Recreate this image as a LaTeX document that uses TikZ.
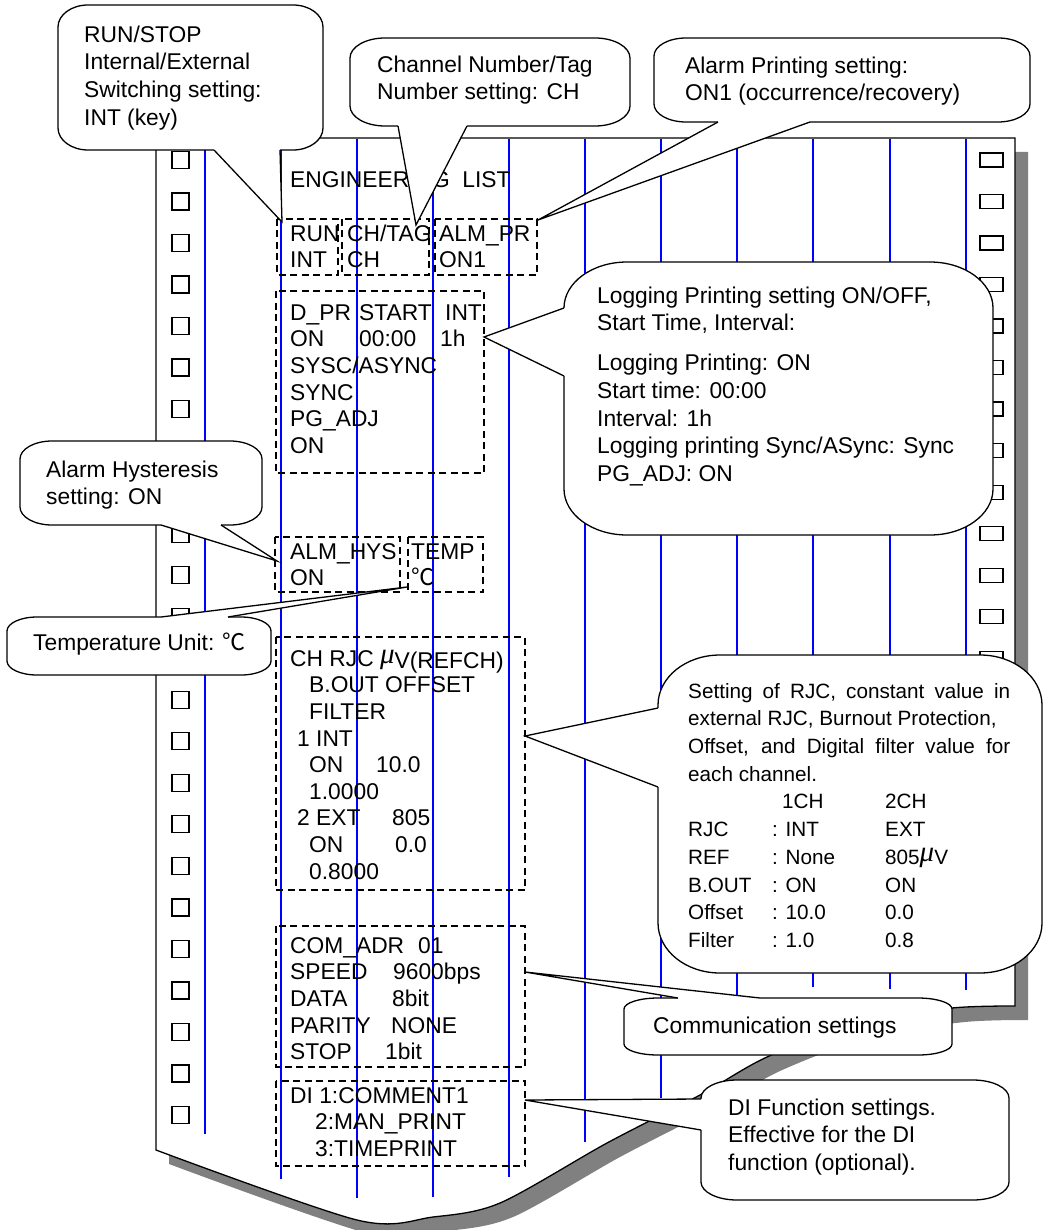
\documentclass[tikz,border=0pt]{standalone}
\usepackage{fontspec}
\setmainfont{Liberation Sans}
\newfontfamily\cjkfont{Noto Sans CJK JP}
\newfontfamily\symbfont{Liberation Serif}
\definecolor{shadowgray}{RGB}{128,128,128}
\definecolor{lineblue}{RGB}{0,0,255}
\tikzset{
  paperline/.style={line width=1.3pt, draw=black},
  bubline/.style={line width=1.3pt, draw=black},
  blueline/.style={draw=lineblue, line width=1.05pt},
  hole/.style={draw=black, line width=1.3pt, fill=white},
  dbox/.style={draw=black, line width=1.3pt, dash pattern=on 7pt off 4.5pt},
  btxt/.style={anchor=north west, inner sep=0pt, align=left, font=\fontsize{22.8}{26.6}\selectfont},
  ctxt/.style={anchor=north west, inner sep=0pt, align=left, font=\fontsize{22.8}{27.7}\selectfont},
  rtxt/.style={anchor=north west, inner sep=0pt, align=left, font=\fontsize{20.7}{27.7}\selectfont},
  stxt/.style={anchor=base west, inner sep=0pt, font=\fontsize{22.8}{27.7}\selectfont},
}
\newcommand{\mum}{\raisebox{3pt}{\fontsize{29}{29}\symbfont\itshape μ}}
\newcommand{\degc}{{\fontsize{23}{23}\cjkfont ℃}}
\newcommand{\bubble}[9]{%
  \filldraw[bubline, fill=white]
    ({#1+#5},{#2}) -- ({#3-#5},{#2})
    .. controls ({#3-0.448*#5},{#2}) and ({#3},{#2+0.448*#6}) .. ({#3},{#2+#6})
    -- ({#3},{#4-#6})
    .. controls ({#3},{#4-0.448*#6}) and ({#3-0.448*#5},{#4}) .. ({#3-#5},{#4})
    -- ({#1+#5},{#4})
    .. controls ({#1+0.448*#5},{#4}) and ({#1},{#4-0.448*#6}) .. ({#1},{#4-#6})
    -- ({#1},{#2+#6})
    .. controls ({#1},{#2+0.448*#6}) and ({#1+0.448*#5},{#2}) .. ({#1+#5},{#2})
    -- cycle;
  \fill[white] (#7) -- (#9) -- (#8) -- cycle;
  \draw[white, line width=2.6pt] (#7) -- (#8);
  \draw[bubline] (#7) -- (#9) -- (#8);
}
\begin{document}
\begin{tikzpicture}[x=1pt,y=-1pt]
\path[fill=white, use as bounding box] (0,0) rectangle (1043,1230);

% paper shadow and paper
\fill[shadowgray, shift={(13,14)}] (156,138) -- (1015,138) -- plot[smooth, tension=0.5] coordinates {(1015,1006) (952,1008) (860,1022) (767,1057) (700,1095) (607,1143) (500,1203) (433,1217) (357,1220) (156,1150)} -- cycle;
\filldraw[paperline, fill=white] (156,138) -- (1015,138) -- plot[smooth, tension=0.5] coordinates {(1015,1006) (952,1008) (860,1022) (767,1057) (700,1095) (607,1143) (500,1203) (433,1217) (357,1220) (156,1150)} -- cycle;

% chart lines
\foreach \x/\e in {205/1134, 281/1179, 357/1198, 433/1197, 509/1177, 585/1142, 661/1098, 737/1045, 813/987, 890/989, 966/990}
  \draw[blueline] (\x,139) -- (\x,\e);

% feed holes
\foreach \k in {0,...,23}
  \draw[hole] (172,{160+41.52*\k-8.5}) rectangle +(17,17);
\foreach \k in {0,...,19}
  \draw[hole] (980,{160+41.52*\k-7}) rectangle +(23,14);

% printed text
\node[stxt] (tEng) at (290,188) {ENGINEERING\ \ LIST};

\draw[dbox] (277,219) rectangle (338,275);
\draw[dbox] (342,219) rectangle (429,275);
\draw[dbox] (435,219) rectangle (537,275);
\node[btxt] (bRun) at (290,222.4) {\strut RUN\\INT};
\node[btxt] (bTag) at (347,222.4) {\strut CH/TAG\\CH};
\node[btxt] (bAlm) at (439,222.4) {\strut ALM\_PR\\ON1};

\draw[dbox] (276,291) rectangle (484,473);
\node[btxt] (bDpr) at (290,301.4) {\strut\makebox[69pt][l]{D\_PR}\makebox[86pt][l]{START}INT\\\makebox[69pt][l]{ON}\makebox[81pt][l]{00:00}1h\\SYSC/ASYNC\\SYNC\\PG\_ADJ\\ON};

\draw[dbox] (275,537) rectangle (400,592);
\draw[dbox] (408,537) rectangle (483,592);
\node[btxt] (bHys) at (290,540.4) {\strut ALM\_HYS\\ON};
\node[btxt] (bTemp) at (411,540.4) {\strut TEMP\\\degc};

\draw[dbox] (276,637) rectangle (525,890);
\node[btxt] (bRjc) at (290,647.4) {\strut CH RJC \mum\raisebox{-2pt}{V(REFCH)}\\\hspace*{19pt}B.OUT OFFSET\\\hspace*{19pt}FILTER\\\hspace*{7pt}1 INT\\\hspace*{19pt}\makebox[67pt][l]{ON}10.0\\\hspace*{19pt}1.0000\\\hspace*{7pt}\makebox[95pt][l]{2 EXT}805\\\hspace*{19pt}\makebox[86pt][l]{ON}0.0\\\hspace*{19pt}0.8000};

\draw[dbox] (276,926) rectangle (525,1067);
\node[btxt] (bCom) at (290,934.4) {\strut\makebox[128pt][l]{COM\_ADR}01\\\makebox[103pt][l]{SPEED}9600bps\\\makebox[102pt][l]{DATA}8bit\\\makebox[101pt][l]{PARITY}NONE\\\makebox[95pt][l]{STOP}1bit};

\draw[dbox] (276,1081) rectangle (525,1166);
\node[btxt] (bDi) at (290,1084.4) {\strut DI 1:COMMENT1\\\hspace*{25pt}2:MAN\_PRINT\\\hspace*{25pt}3:TIMEPRINT};

% callouts
\coordinate (w1a) at (214,150); \coordinate (w1b) at (280,150); \coordinate (w1t) at (282,222);
\bubble{58}{5}{323}{150}{30}{22}{w1a}{w1b}{w1t}
\node[ctxt] (tRun) at (84,22.6) {\strut RUN/STOP\\Internal/External\\Switching setting:\\INT (key)};

\coordinate (w2a) at (398,126); \coordinate (w2b) at (467,126); \coordinate (w2t) at (416,225);
\bubble{350}{38}{630}{126}{35}{20}{w2a}{w2b}{w2t}
\node[ctxt] (tChan) at (377,52.6) {\strut Channel Number/Tag\\Number setting: CH};

\coordinate (w3a) at (718,122); \coordinate (w3b) at (810,122); \coordinate (w3t) at (538,220);
\bubble{654}{38}{1030}{122}{32}{18}{w3a}{w3b}{w3t}
\node[ctxt] (tAlm) at (685,53.6) {\strut Alarm Printing setting:\\ON1 (occurrence/recovery)};

\coordinate (w4a) at (564,308); \coordinate (w4b) at (564,376); \coordinate (w4t) at (484,337);
\bubble{564}{262}{993}{535}{63}{46}{w4a}{w4b}{w4t}
\node[ctxt] (tLog) at (597,283.6) {\strut Logging Printing setting ON/OFF,\\Start Time, Interval:\\[12.3pt]Logging Printing: ON\\Start time: 00:00\\Interval: 1h\\Logging printing Sync/ASync: Sync\\PG\_ADJ: ON};

\coordinate (w5a) at (161,525); \coordinate (w5b) at (221,525); \coordinate (w5t) at (277,561);
\bubble{20}{441}{262}{525}{32}{18}{w5a}{w5b}{w5t}
\node[ctxt] (tHys) at (46,457.6) {\strut Alarm Hysteresis\\setting: ON};

\coordinate (w6a) at (161,617); \coordinate (w6b) at (228,617); \coordinate (w6t) at (407,587);
\bubble{7}{617}{271}{675}{30}{14}{w6a}{w6b}{w6t}
\node[stxt] (tTemp) at (33,650) {Temperature Unit: \degc};

\coordinate (w7a) at (658,708); \coordinate (w7b) at (658,787); \coordinate (w7t) at (525,736);
\bubble{658}{655}{1042}{973}{62}{50}{w7a}{w7b}{w7t}
\node[rtxt] (tRjc) at (688,678.6) {\strut\makebox[322pt][s]{Setting of RJC, constant value in}\\external RJC, Burnout Protection,\\\makebox[322pt][s]{Offset, and Digital filter value for}\\each channel.\\\hspace*{94pt}\makebox[103pt][l]{1CH}2CH\\\makebox[84pt][l]{RJC}\makebox[113pt][l]{: INT}EXT\\\makebox[84pt][l]{REF}\makebox[113pt][l]{: None}805\mum V\\\makebox[84pt][l]{B.OUT}\makebox[113pt][l]{: ON}ON\\\makebox[84pt][l]{Offset}\makebox[113pt][l]{: 10.0}0.0\\\makebox[84pt][l]{Filter}\makebox[113pt][l]{: 1.0}0.8};

\coordinate (w8a) at (678,998); \coordinate (w8b) at (760,998); \coordinate (w8t) at (525,972);
\bubble{624}{998}{952}{1055}{34}{11}{w8a}{w8b}{w8t}
\node[stxt] (tCom) at (653,1033) {Communication settings};

\coordinate (w9a) at (701,1099); \coordinate (w9b) at (701,1130); \coordinate (w9t) at (525,1100);
\bubble{701}{1080}{1009}{1200}{36}{18}{w9a}{w9b}{w9t}
\node[ctxt] (tDi) at (728,1095.6) {\strut DI Function settings.\\Effective for the DI\\function (optional).};
\end{tikzpicture}
\end{document}
